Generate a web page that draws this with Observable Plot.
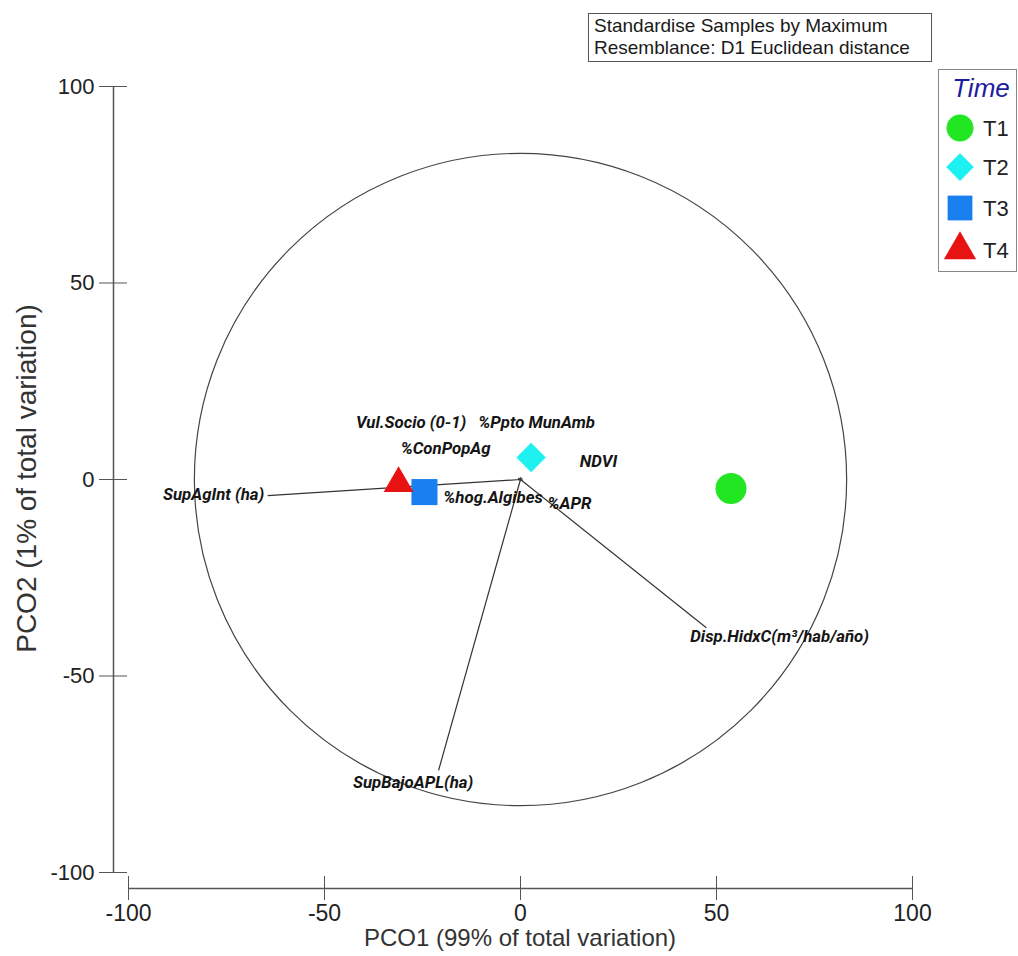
<!DOCTYPE html>
<html><head><meta charset="utf-8">
<script src="https://cdn.jsdelivr.net/npm/d3@7"></script>
<script src="https://cdn.jsdelivr.net/npm/@observablehq/plot@0.6"></script>
<style>
body{margin:0;background:#fff;font-family:"Liberation Sans",Arial,sans-serif;}
#wrap{position:relative;width:1018px;height:956px;overflow:hidden;}
#note{position:absolute;left:588px;top:13px;width:344px;height:49px;border:1.5px solid #555;box-sizing:border-box;font-size:19px;line-height:22px;padding:1px 0 0 5px;color:#1a1a1a;background:#fff}
#legend{position:absolute;left:938px;top:69px;width:79px;height:203px;border:1.5px solid #888;box-sizing:border-box;background:#fff}
</style></head><body><div id="wrap"><div id="chart"></div>
<div id="note">Standardise Samples by Maximum<br>Resemblance: D1 Euclidean distance</div>
<div id="legend"></div></div>
<script>
// Sample scores (PCO1, PCO2) per time
const times = ["T1", "T2", "T3", "T4"];
const pcoX = [53.7, 2.7, -24.5, -31.1];
const pcoY = [-2.3, 5.6, -3.2, -1.0];
const timeColors = ["#22e622", "#1ff0f0", "#1a80f0", "#e81212"];
const timeSymbols = ["circle", "diamond2", "square", "triangle"];
const timeRadius = [15.5, 13.2, 14.7, 11.1];

// Vector overlay (variables): tips and label positions in PCO units
const varNames = ["SupAgInt (ha)", "Vul.Socio (0-1)", "%Ppto MunAmb", "%ConPopAg", "NDVI", "%hog.Algibes", "%APR", "SupBajoAPL(ha)", "Disp.HidxC(m³/hab/año)"];
const vecX = [-64.5, -0.6, 0.1, -0.4, 0.6, -0.5, 0.5, -20.9, 47.4];
const vecY = [-4.1, 0.4, 0.6, 0.2, 0.2, -0.2, -0.3, -74.0, -37.7];
const labelX = [-78.3, -27.9, 4.1, -19.1, 19.9, -7.0, 12.5, -27.4, 66.1];
const labelY = [-3.8, 14.5, 14.5, 7.9, 4.6, -4.6, -6.1, -77.1, -40.0];

const circleRadius = 83.2; // correlation circle radius (PCO units)
const axisTicks = [-100, -50, 0, 50, 100];
const xDomain = [-100, 100];
const yDomain = [-100, 100];
const xTitle = "PCO1 (99% of total variation)";
const yTitle = "PCO2 (1% of total variation)";

const points = times.map((t, i) => ({time: t, x: pcoX[i], y: pcoY[i], r: timeRadius[i]}));
const vectors = varNames.map((n, i) => ({name: n, x: vecX[i], y: vecY[i], lx: labelX[i], ly: labelY[i]}));

const W = 1018, H = 956;
const mL = 113, mR = 106, mT = 86, mB = 68, iL = 15, iB = 16;
const pxPerUnit = (W - mR - mL - iL) / (xDomain[1] - xDomain[0]);
const fmt = d => String(d);

const chart = Plot.plot({
  width: W, height: H,
  marginLeft: mL, marginRight: mR, marginTop: mT, marginBottom: mB,
  insetLeft: iL, insetBottom: iB,
  x: {domain: xDomain},
  y: {domain: yDomain},
  symbol: {domain: times, range: timeSymbols},
  color: {domain: times, range: timeColors},
  style: {fontFamily: "Liberation Sans, Arial, sans-serif", background: "white", color: "#222"},
  marks: [
    Plot.axisX({anchor: "bottom", ticks: axisTicks, tickFormat: fmt, tickSize: 24, dy: -12, tickPadding: 4, fontSize: 23, label: null, stroke: "#555"}),
    Plot.axisY({anchor: "left", ticks: axisTicks, tickFormat: fmt, tickSize: 28, dx: 14, tickPadding: 5, fontSize: 22, label: null, stroke: "#555"}),
    Plot.ruleY([yDomain[0]], {x1: xDomain[0], x2: xDomain[1], dy: iB, stroke: "#555", strokeWidth: 1.5}),
    Plot.ruleX([xDomain[0]], {y1: yDomain[0], y2: yDomain[1], dx: -iL, stroke: "#555", strokeWidth: 1.5}),
    Plot.text([xTitle], {frameAnchor: "bottom", textAnchor: "middle", text: d => d, dy: 57, dx: 7, fontSize: 24, fill: "#333"}),
    Plot.text([yTitle], {frameAnchor: "left", textAnchor: "middle", text: d => d, rotate: -90, dx: -86, dy: -9, fontSize: 28, fill: "#333"}),
    Plot.dot([{x: 0, y: 0}], {x: "x", y: "y", r: circleRadius * pxPerUnit, stroke: "#444", strokeWidth: 1.2, fill: "none"}),
    Plot.link(vectors, {x1: () => 0, y1: () => 0, x2: "x", y2: "y", stroke: "#333", strokeWidth: 1.2}),
    Plot.dot(points, {x: "x", y: "y", symbol: "time", fill: "time", r: {value: "r", scale: null}, stroke: null}),
    Plot.text(vectors, {x: "lx", y: "ly", text: "name", fontFamily: "Roboto, sans-serif", fontStyle: "italic", fontWeight: "bold", fontSize: 16.8, fill: "#151515"})
  ]
});
document.getElementById("chart").appendChild(chart);

// Legend
const lg = d3.select("#legend").append("svg").attr("width", 76).attr("height", 200);
lg.append("text").attr("x", 42).attr("y", 27).attr("text-anchor", "middle")
  .attr("font-style", "italic").attr("font-size", 26).attr("fill", "#1c1ca0")
  .attr("font-family", "Liberation Sans, Arial, sans-serif").text("Time");
const legR = [13.5, 12.5, 14, 12];
const legY = [58, 97, 138, 180];
times.forEach((t, i) => {
  const r = legR[i];
  lg.append("path")
    .attr("transform", `translate(21,${legY[i]})`)
    .attr("d", d3.symbol(d3["symbol" + timeSymbols[i][0].toUpperCase() + timeSymbols[i].slice(1)], r * r * Math.PI)())
    .attr("fill", timeColors[i]);
  lg.append("text").attr("x", 44).attr("y", legY[i]).attr("dy", "0.36em")
    .attr("font-size", 22).attr("fill", "#222")
    .attr("font-family", "Liberation Sans, Arial, sans-serif").text(t);
});
</script></body></html>
